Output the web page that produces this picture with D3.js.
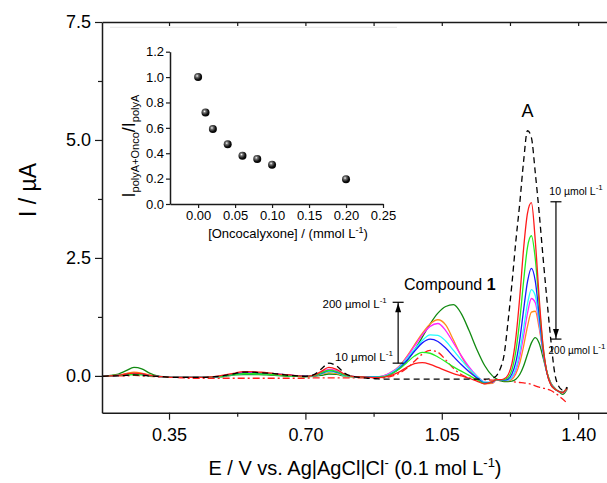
<!DOCTYPE html>
<html><head><meta charset="utf-8">
<script src="https://cdn.jsdelivr.net/npm/d3@7"></script>
<style>
body{margin:0;background:#fff}
svg{display:block}
text{font-family:"Liberation Sans",Arial,Helvetica,sans-serif;fill:#000}
</style>
</head><body>
<svg id="chart" width="607" height="483"></svg>
<script>
// ---------- DATA ----------
const potential = [0.18,0.20,0.22,0.24,0.26,0.28,0.30,0.32,0.34,0.36,
  0.38,0.40,0.42,0.44,0.46,0.48,0.50,0.52,0.54,0.56,
  0.58,0.60,0.62,0.64,0.66,0.68,0.70,0.72,0.74,0.76,
  0.78,0.80,0.82,0.84,0.86,0.88,0.90,0.92,0.94,0.96,
  0.98,1.00,1.02,1.04,1.06,1.08,1.10,1.12,1.14,1.16,
  1.18,1.19,1.20,1.21,1.22,1.23,1.24,1.25,1.26,1.27,
  1.28,1.29,1.30,1.31,1.32,1.33,1.34,1.35,1.36,1.372];

const polyA = [-0.01,0.00,0.00,0.01,0.02,0.01,0.00,-0.01,-0.02,-0.03,
  -0.03,-0.03,-0.03,-0.03,-0.02,-0.01,0.02,0.05,0.08,0.08,
  0.07,0.06,0.05,0.03,0.01,0.00,-0.01,0.02,0.14,0.27,
  0.21,0.06,-0.01,-0.03,-0.05,-0.06,-0.07,-0.07,-0.07,-0.07,
  -0.07,-0.07,-0.07,-0.07,-0.07,-0.07,-0.07,-0.07,-0.07,-0.07,
  -0.05,0.00,0.15,0.45,1.15,1.95,2.85,3.65,4.55,5.20,
  5.05,4.30,3.45,2.50,1.60,0.75,0.05,-0.22,-0.30,-0.24];

const onco10 = [-0.01,0.00,0.01,0.04,0.06,0.05,0.01,-0.01,-0.02,-0.03,
  -0.03,-0.03,-0.03,-0.03,-0.02,0.00,0.03,0.06,0.09,0.09,
  0.08,0.07,0.05,0.03,0.02,0.00,-0.01,0.01,0.09,0.18,
  0.14,0.04,-0.01,-0.02,-0.03,-0.035,-0.03,0.01,0.08,0.18,
  0.26,0.28,0.245,0.18,0.11,0.05,0.00,-0.05,-0.11,-0.17,
  -0.12,-0.08,-0.08,-0.06,0.02,0.26,0.80,1.66,2.70,3.45,
  3.67,2.86,1.65,0.63,0.06,-0.19,-0.28,-0.33,-0.35,-0.25];

const onco20 = [-0.01,0.00,0.01,0.02,0.03,0.02,0.00,-0.01,-0.02,-0.03,
  -0.03,-0.03,-0.03,-0.03,-0.02,-0.01,0.01,0.03,0.05,0.05,
  0.04,0.04,0.03,0.01,0.00,-0.01,-0.01,0.00,0.06,0.12,
  0.09,0.02,-0.01,-0.02,-0.03,-0.03,-0.02,0.04,0.14,0.28,
  0.42,0.50,0.48,0.40,0.30,0.19,0.10,0.01,-0.08,-0.16,
  -0.12,-0.08,-0.085,-0.08,-0.035,0.13,0.52,1.17,2.01,2.73,
  2.97,2.48,1.51,0.61,0.07,-0.185,-0.28,-0.33,-0.35,-0.25];

const onco40 = [-0.01,0.00,0.01,0.02,0.04,0.03,0.00,-0.01,-0.02,-0.03,
  -0.03,-0.03,-0.03,-0.03,-0.02,-0.01,0.01,0.04,0.06,0.06,
  0.05,0.05,0.04,0.03,0.02,0.00,0.00,0.00,0.05,0.11,
  0.08,0.02,-0.01,-0.02,-0.025,-0.025,-0.02,0.04,0.15,0.32,
  0.52,0.70,0.78,0.73,0.59,0.41,0.24,0.09,-0.04,-0.15,
  -0.13,-0.08,-0.09,-0.09,-0.07,0.04,0.29,0.76,1.40,2.00,
  2.28,2.01,1.29,0.55,0.06,-0.18,-0.28,-0.33,-0.35,-0.25];

const onco60 = [-0.01,0.00,0.01,0.03,0.04,0.03,0.01,-0.01,-0.02,-0.03,
  -0.03,-0.03,-0.03,-0.03,-0.02,-0.01,0.01,0.03,0.05,0.05,
  0.05,0.04,0.03,0.02,0.00,-0.01,-0.01,0.00,0.04,0.09,
  0.07,0.01,-0.015,-0.02,-0.02,-0.015,-0.01,0.06,0.18,0.36,
  0.56,0.75,0.87,0.86,0.74,0.54,0.34,0.15,-0.01,-0.13,
  -0.13,-0.08,-0.09,-0.09,-0.09,-0.02,0.16,0.51,1.01,1.53,
  1.83,1.70,1.15,0.52,0.06,-0.175,-0.28,-0.33,-0.35,-0.25];

const onco80 = [-0.01,0.00,0.01,0.03,0.05,0.04,0.01,-0.01,-0.02,-0.03,
  -0.03,-0.03,-0.03,-0.03,-0.02,-0.01,0.02,0.05,0.07,0.07,
  0.06,0.05,0.04,0.02,0.01,0.00,-0.01,0.01,0.07,0.14,
  0.11,0.03,-0.01,-0.02,-0.02,-0.02,0.00,0.08,0.19,0.39,
  0.63,0.87,1.05,1.11,0.96,0.70,0.43,0.19,0.00,-0.13,
  -0.14,-0.08,-0.09,-0.095,-0.09,-0.04,0.11,0.40,0.85,1.33,
  1.64,1.55,1.08,0.50,0.06,-0.17,-0.28,-0.33,-0.36,-0.26];

const onco100 = [-0.01,0.00,0.02,0.05,0.08,0.06,0.02,-0.01,-0.02,-0.03,
  -0.03,-0.03,-0.03,-0.03,-0.02,-0.01,0.01,0.04,0.06,0.06,
  0.05,0.04,0.03,0.02,0.01,-0.01,-0.01,-0.01,0.03,0.07,
  0.05,0.01,-0.02,-0.02,-0.025,-0.03,0.00,0.07,0.20,0.41,
  0.66,0.90,1.10,1.19,1.08,0.76,0.42,0.15,-0.06,-0.17,
  -0.16,-0.09,-0.09,-0.10,-0.10,-0.07,0.04,0.27,0.63,1.05,
  1.35,1.37,1.01,0.50,0.08,-0.16,-0.27,-0.33,-0.36,-0.26];

const onco200 = [-0.01,0.01,0.04,0.11,0.18,0.15,0.06,0.00,-0.02,-0.03,
  -0.03,-0.03,-0.03,-0.03,-0.025,-0.02,0.00,0.02,0.03,0.03,
  0.03,0.02,0.01,0.00,-0.01,-0.01,-0.02,-0.01,0.01,0.04,
  0.03,0.00,-0.02,-0.02,-0.025,-0.03,-0.02,0.04,0.15,0.32,
  0.55,0.82,1.10,1.33,1.47,1.51,1.32,0.96,0.56,0.22,
  0.00,-0.06,-0.10,-0.12,-0.12,-0.11,-0.07,0.03,0.21,0.46,
  0.70,0.81,0.69,0.39,0.07,-0.15,-0.26,-0.33,-0.39,-0.28];

const compoundAlone = [0.00,0.00,0.00,0.00,0.01,0.00,-0.01,-0.02,-0.03,-0.03,
  -0.04,-0.05,-0.05,-0.05,-0.05,-0.05,-0.05,-0.05,-0.05,-0.05,
  -0.05,-0.05,-0.05,-0.05,-0.05,-0.05,-0.05,-0.04,-0.04,-0.04,
  -0.04,-0.04,-0.04,-0.04,-0.04,-0.05,-0.04,-0.01,0.05,0.16,
  0.31,0.46,0.54,0.50,0.34,0.16,0.03,-0.04,-0.07,-0.08,
  -0.09,-0.09,-0.10,-0.10,-0.11,-0.12,-0.13,-0.14,-0.15,-0.16,
  -0.18,-0.21,-0.24,-0.26,-0.28,-0.31,-0.36,-0.42,-0.49,-0.58];

const xTicks = [0.35, 0.70, 1.05, 1.40];
const xMinorTicks = [0.525, 0.875, 1.225];
const yTicks = [0.0, 2.5, 5.0, 7.5];
const yMinorTicks = [1.25, 3.75, 6.25];

const insetConc = [0.00, 0.01, 0.02, 0.04, 0.06, 0.08, 0.10, 0.20];
const insetRatio = [1.00, 0.72, 0.59, 0.47, 0.38, 0.355, 0.31, 0.195];
const insetXTicks = [0.00, 0.05, 0.10, 0.15, 0.20, 0.25];
const insetYTicks = [0.0, 0.2, 0.4, 0.6, 0.8, 1.0, 1.2];

// ---------- CHART ----------
const svg = d3.select("#chart");
const x = d3.scaleLinear().domain([0.178, 1.474]).range([102, 607]);
const y = d3.scaleLinear().domain([-0.78, 7.5]).range([412.7, 22]);
const axisColor = "#1a1a1a";

function styleAxis(g, fs) {
  g.selectAll("path.domain").attr("stroke", axisColor).attr("stroke-width", 1.5);
  g.selectAll(".tick line").attr("stroke", axisColor).attr("stroke-width", 1.2);
  g.selectAll(".tick text").style("font-size", fs + "px")
    .style("font-family", '"Liberation Sans", Arial, sans-serif').attr("fill", "#000");
}

// inset frame faint line
svg.append("line").attr("x1", 110).attr("x2", 397).attr("y1", 27.3).attr("y2", 27.3)
  .attr("stroke", "#e6e6e6").attr("stroke-width", 1);

// curves
const series = [
  {v: compoundAlone, c: "#ff1a1a", dash: "7,3,2,3"},
  {v: onco200, c: "#118a11"},
  {v: onco100, c: "#ff8c1a"},
  {v: onco80, c: "#ff22ff"},
  {v: onco60, c: "#22ffff"},
  {v: onco40, c: "#1a1aff"},
  {v: onco20, c: "#22ee22"},
  {v: onco10, c: "#ff1a1a"},
  {v: polyA, c: "#000000", dash: "6,4"}
];
const line = d3.line()
  .x((d, i) => x(potential[i]))
  .y(d => y(d))
  .curve(d3.curveMonotoneX);
svg.append("g").selectAll("path").data(series).join("path")
  .attr("d", s => line(s.v))
  .attr("fill", "none")
  .attr("stroke", s => s.c)
  .attr("stroke-width", 1.3)
  .attr("stroke-dasharray", s => s.dash || null);

// main axes
const gL = svg.append("g").attr("transform", "translate(102,0)")
  .call(d3.axisLeft(y).tickValues(yTicks).tickFormat(d3.format(".1f")).tickSize(7).tickSizeOuter(0).tickPadding(4));
styleAxis(gL, 18);
const gLm = svg.append("g").attr("transform", "translate(102,0)")
  .call(d3.axisLeft(y).tickValues(yMinorTicks).tickFormat("").tickSize(4).tickSizeOuter(0));
gLm.select("path.domain").remove(); styleAxis(gLm, 18);

const gB = svg.append("g").attr("transform", "translate(0,412.7)")
  .call(d3.axisBottom(x).tickValues(xTicks).tickFormat(d3.format(".2f")).tickSize(7).tickSizeOuter(0).tickPadding(9));
styleAxis(gB, 18);
const gBm = svg.append("g").attr("transform", "translate(0,412.7)")
  .call(d3.axisBottom(x).tickValues(xMinorTicks).tickFormat("").tickSize(4).tickSizeOuter(0));
gBm.select("path.domain").remove(); styleAxis(gBm, 18);

const gT = svg.append("g").attr("transform", "translate(0,22)")
  .call(d3.axisTop(x).tickValues(xTicks.concat(xMinorTicks)).tickFormat("").tickSize(-4).tickSizeOuter(0));
styleAxis(gT, 18);

// axis titles
const xt = svg.append("text").attr("x", 355).attr("y", 475).attr("text-anchor", "middle")
  .style("font-size", "20px");
xt.append("tspan").text("E / V vs. Ag|AgCl|Cl");
xt.append("tspan").attr("dy", -8).style("font-size", "13px").text("-");
xt.append("tspan").attr("dy", 8).text(" (0.1 mol L");
xt.append("tspan").attr("dy", -8).style("font-size", "13px").text("-1");
xt.append("tspan").attr("dy", 8).text(")");

svg.append("text").attr("transform", "translate(36,190) rotate(-90)")
  .attr("text-anchor", "middle").style("font-size", "23px").text("I / \u00b5A");

// annotations
function unitLabel(ex, iy, num, sup, fs) {
  const t = svg.append("text").attr("x", x(ex)).attr("y", y(iy)).style("font-size", fs + "px");
  t.append("tspan").text(num + " \u00b5mol L");
  if (sup) t.append("tspan").attr("dy", -5).style("font-size", "8px").text("-1");
  return t;
}
svg.append("text").attr("x", x(1.27)).attr("y", y(5.49)).attr("text-anchor", "middle")
  .style("font-size", "18px").text("A");
const ct = svg.append("text").attr("x", x(0.953)).attr("y", y(1.82)).style("font-size", "16px");
ct.append("tspan").text("Compound ");
ct.append("tspan").style("font-weight", "bold").text("1");

unitLabel(0.744, 1.44, "200", true, 11.5);
unitLabel(0.776, 0.32, "10", true, 11.5);
unitLabel(1.326, 3.83, "10", true, 10.5);
unitLabel(1.324, 0.47, "200", true, 10);

function bracket(ex, iTop, iBot, arrowUp) {
  const g = svg.append("g").attr("stroke", "#000").attr("stroke-width", 1.2);
  const cx = x(ex), yt = y(iTop), yb = y(iBot);
  g.append("line").attr("x1", cx - 5.5).attr("x2", cx + 5.5).attr("y1", yt).attr("y2", yt);
  g.append("line").attr("x1", cx - 5.5).attr("x2", cx + 5.5).attr("y1", yb).attr("y2", yb);
  g.append("line").attr("x1", cx).attr("x2", cx).attr("y1", yt).attr("y2", yb);
  const tip = arrowUp ? yt + 1 : yb - 1;
  const base = arrowUp ? tip + 9 : tip - 9;
  svg.append("path").attr("d", `M${cx},${tip}L${cx - 3},${base}L${cx + 3},${base}Z`).attr("fill", "#000");
}
bracket(0.938, 1.56, 0.27, true);
bracket(1.343, 3.69, 0.78, false);

// ---------- INSET ----------
const ix = d3.scaleLinear().domain([-0.038, 0.25]).range([170, 383]);
const iy = d3.scaleLinear().domain([0, 1.2]).range([204, 51.7]);
const defs = svg.append("defs");
const grad = defs.append("radialGradient").attr("id", "ball").attr("cx", "38%").attr("cy", "35%").attr("r", "65%");
grad.append("stop").attr("offset", "0%").attr("stop-color", "#ffffff");
grad.append("stop").attr("offset", "25%").attr("stop-color", "#777");
grad.append("stop").attr("offset", "70%").attr("stop-color", "#111");
grad.append("stop").attr("offset", "100%").attr("stop-color", "#000");

const giL = svg.append("g").attr("transform", "translate(170,0)")
  .call(d3.axisLeft(iy).tickValues(insetYTicks).tickFormat(d3.format(".1f")).tickSize(4).tickSizeOuter(0).tickPadding(2));
styleAxis(giL, 13);
const giB = svg.append("g").attr("transform", "translate(0,204)")
  .call(d3.axisBottom(ix).tickValues(insetXTicks).tickFormat(d3.format(".2f")).tickSize(4).tickSizeOuter(0).tickPadding(3));
styleAxis(giB, 13);

svg.append("g").selectAll("circle").data(insetConc).join("circle")
  .attr("cx", d => ix(d)).attr("cy", (d, i) => iy(insetRatio[i])).attr("r", 4)
  .attr("fill", "url(#ball)");

const ixt = svg.append("text").attr("x", 288).attr("y", 238).attr("text-anchor", "middle").style("font-size", "13px");
ixt.append("tspan").text("[Oncocalyxone] / (mmol L");
ixt.append("tspan").attr("dy", -5).style("font-size", "9px").text("-1");
ixt.append("tspan").attr("dy", 5).text(")");

const iyt = svg.append("text").attr("transform", "translate(135,146) rotate(-90)")
  .attr("text-anchor", "middle").style("font-size", "18px");
iyt.append("tspan").text("I");
iyt.append("tspan").attr("dy", 4).style("font-size", "11px").text("polyA+Onco");
iyt.append("tspan").attr("dy", -4).text("/I");
iyt.append("tspan").attr("dy", 4).style("font-size", "11px").text("polyA");
</script>
</body></html>
